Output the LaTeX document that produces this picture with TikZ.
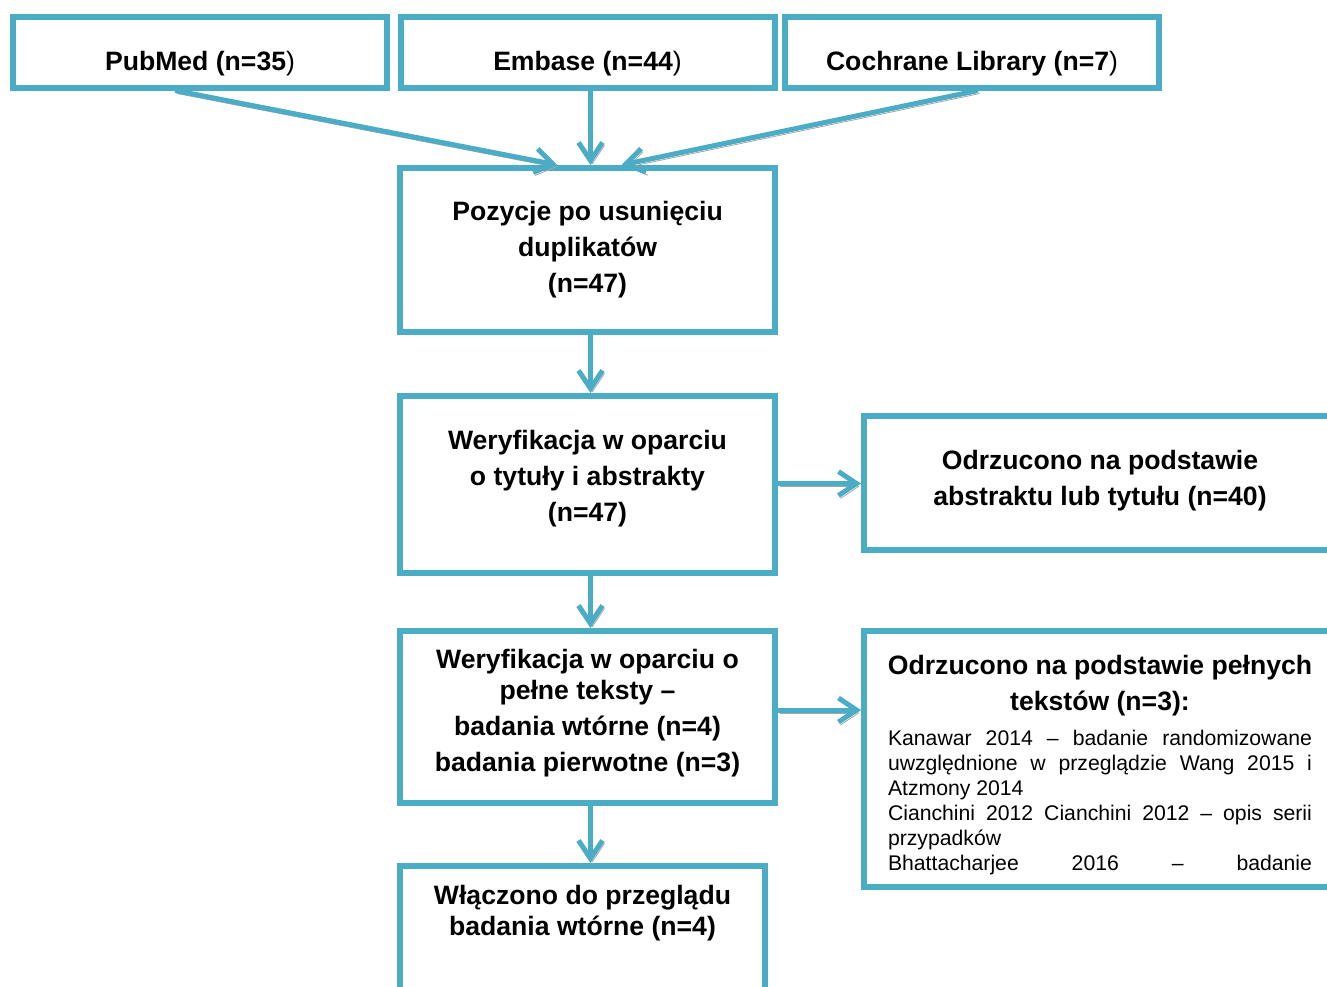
\documentclass[tikz,border=0pt]{standalone}
\usepackage{fontspec}
\setmainfont{Liberation Sans}
\usetikzlibrary{arrows.meta,positioning,calc}
\definecolor{prisma}{HTML}{4BACC6}

\begin{document}
\begin{tikzpicture}[x=0.5pt,y=-0.5pt,
	box/.style={draw=prisma,line width=3pt,align=center,inner xsep=4pt,inner ysep=4pt,
		font=\bfseries\fontsize{13.3}{18}\selectfont},
	arr/.style={draw=prisma,line width=2.5pt,-{Straight Barb[length=9pt,width=12pt]},
		preaction={draw=gray!70,transform canvas={shift={(1pt,-1.5pt)}}}}]
			\useasboundingbox (0,0) rectangle (1327,986);
			\foreach \name/\x/\txt in {pub/200/PubMed (n=35,emb/587.5/Embase (n=44,coch/972/Cochrane Library (n=7}
			\node[box,minimum width=187pt,minimum height=35.5pt,text height=22.75pt,text depth=4.75pt] (\name) at (\x,52) {\txt\mdseries)};
			\node[box,minimum width=187.5pt,minimum height=82pt,text height=58pt,text depth=16pt] (poz) at (587.5,250) {Pozycje po usunięciu\\duplikatów\\(n=47)};
			\node[box,minimum width=187.5pt,minimum height=88.5pt,text height=58.5pt,text depth=22pt] (wer1) at (587.5,484.5) {Weryfikacja w oparciu\\o tytuły i abstrakty\\(n=47)};
			\node[box,minimum width=236pt,minimum height=67pt,text height=40.5pt,text depth=18.5pt] (odrz1) at (1100,483) {Odrzucono na podstawie\\abstraktu lub tytułu (n=40)};
			\node[box,minimum width=187.5pt,minimum height=86pt,text height=66pt,text depth=12pt] (wer2) at (587.5,717) {Weryfikacja w oparciu o\\[-2.5pt]pełne teksty –\\badania wtórne (n=4)\\badania pierwotne (n=3)};
			\node[box,anchor=north west,align=justify,inner xsep=12pt,text width=212pt,minimum height=128pt,text height=17.5pt,text depth=102.5pt] (odrz2) at (861,628)
			{\parindent=0pt\hyphenpenalty=10000
			{\centering\makebox[\linewidth]{Odrzucono na podstawie pełnych}\\tekstów (n=3):\par}
			\vskip5pt
			\mdseries\fontsize{10.6}{12.5}\selectfont
			Kanawar 2014 – badanie randomizowane\linebreak uwzględnione w przeglądzie Wang 2015 i\linebreak Atzmony 2014\par
			Cianchini 2012 Cianchini 2012 – opis serii\linebreak przypadków\par
			{\parfillskip=0pt Bhattacharjee 2016 – badanie\par}};
			\node[box,anchor=north,minimum width=182.5pt,minimum height=75pt,text height=30.5pt,text depth=36.5pt] (wlacz) at (582.5,863) {Włączono do przeglądu\\[-2.5pt]badania wtórne (n=4)};
			\draw[arr] ([xshift=-12.5pt]pub.south) -- ([xshift=-15pt]poz.north);
			\draw[arr] ([xshift=1.5pt]emb.south) -- ([xshift=1.5pt]poz.north);
			\draw[arr] ([xshift=3pt]coch.south) -- ([xshift=17pt]poz.north);
			\draw[arr] ([xshift=1.5pt]poz.south) -- ([xshift=1.5pt]wer1.north);
			\draw[arr] ([xshift=1.5pt]wer1.south) -- ([xshift=1.5pt]wer2.north);
			\draw[arr] ([xshift=1.5pt]wer2.south) -- ([xshift=1.5pt]wer2.south |- wlacz.north);
			\draw[arr] ([yshift=0.5pt]wer1.east) -- ([yshift=0.5pt]wer1.east -| odrz1.west);
			\draw[arr] ([yshift=3.5pt]wer2.east) -- ([yshift=3.5pt]wer2.east -| odrz2.west);
\end{tikzpicture}
\end{document}
